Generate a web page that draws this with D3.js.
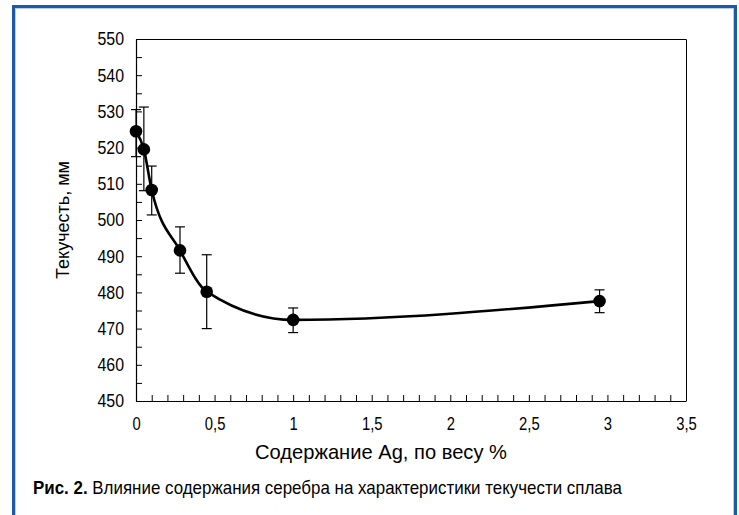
<!DOCTYPE html>
<html>
<head>
<meta charset="utf-8">
<script src="https://cdn.jsdelivr.net/npm/d3@7"></script>
<style>
  body { margin: 0; background: #fff; }
  svg { display: block; }
  text { font-family: "Liberation Sans", Arial, sans-serif; }
</style>
</head>
<body>
<div id="chart"></div>
<script>
// Ag content, % by weight
const agContent = [0, 0.05, 0.1, 0.28, 0.45, 1.0, 2.95];
// fluidity, mm
const fluidity = [524.5, 519.5, 508.3, 491.6, 480.2, 472.4, 477.6];
const errUp = [6.0, 11.7, 6.6, 6.5, 10.2, 3.3, 3.1];
const errDown = [7.0, 11.4, 6.9, 6.3, 10.2, 3.5, 3.2];
const xTickLabels = ["0", "0,5", "1", "1,5", "2", "2,5", "3", "3,5"];
const yTickLabels = ["450", "460", "470", "480", "490", "500", "510", "520", "530", "540", "550"];

const data = agContent.map((x, i) => ({ x, y: fluidity[i], lo: fluidity[i] - errDown[i], hi: fluidity[i] + errUp[i] }));

const W = 739, H = 515;
const margin = { left: 136, top: 39, right: 53, bottom: 114 };
const width = W - margin.left - margin.right;
const height = H - margin.top - margin.bottom;

// squeeze text horizontally (the original uses a condensed face)
function condense(sel, k) {
  sel.each(function () {
    const len = this.getComputedTextLength();
    if (len > 0) d3.select(this).attr("textLength", len * k).attr("lengthAdjust", "spacingAndGlyphs");
  });
}

const svg = d3.select("#chart").append("svg").attr("width", W).attr("height", H);

// blue frame
svg.append("rect").attr("x", 13.5).attr("y", 6.5).attr("width", 722).attr("height", 520)
  .attr("fill", "none").attr("stroke", "#1d5aa6").attr("stroke-width", 3);
svg.append("rect").attr("x", 15.5).attr("y", 8.5).attr("width", 718).attr("height", 520)
  .attr("fill", "none").attr("stroke", "#b7cde9").attr("stroke-width", 1);

const g = svg.append("g").attr("transform", `translate(${margin.left},${margin.top})`);

const x = d3.scaleLinear().domain([0, 3.5]).range([0, width]);
const y = d3.scaleLinear().domain([450, 550]).range([height, 0]);

// plot frame (top/right)
g.append("path").attr("d", `M0,0.5H${width + 0.5}V${height}`).attr("fill", "none")
  .attr("stroke", "#000").attr("stroke-width", 1);

// x axis, ticks inward every 0.1
const xAxis = g.append("g").attr("transform", `translate(0,${height})`)
  .call(d3.axisBottom(x).tickValues(d3.range(0, 3.5001, 0.1)).tickSizeInner(-6).tickSizeOuter(0)
    .tickFormat(d => {
      const k = Math.round(d * 10);
      return k % 5 === 0 ? xTickLabels[k / 5] : "";
    }));
xAxis.selectAll("text").attr("dy", 0).attr("y", 29).attr("font-size", 18.5).attr("fill", "#000")
  .style("font-family", "'Liberation Sans', Arial, sans-serif");
xAxis.select(".domain").attr("stroke-width", 1.2);
condense(xAxis.selectAll("text"), 0.8);

// y axis, ticks inward every 5
const yAxis = g.append("g")
  .call(d3.axisLeft(y).tickValues(d3.range(450, 550.1, 5)).tickSizeInner(-6).tickSizeOuter(0)
    .tickFormat(d => d % 10 === 0 ? yTickLabels[(d - 450) / 10] : ""));
yAxis.selectAll("text").attr("x", -12).attr("font-size", 18.5).attr("fill", "#000")
  .style("font-family", "'Liberation Sans', Arial, sans-serif");
yAxis.select(".domain").attr("stroke-width", 1.2);
condense(yAxis.selectAll("text"), 0.86);

// error bars
const eb = g.append("g").attr("stroke", "#000").attr("stroke-width", 1.2);
data.forEach(d => {
  eb.append("line").attr("x1", x(d.x)).attr("x2", x(d.x)).attr("y1", y(d.lo)).attr("y2", y(d.hi));
  eb.append("line").attr("x1", x(d.x) - 5).attr("x2", x(d.x) + 5).attr("y1", y(d.lo)).attr("y2", y(d.lo));
  eb.append("line").attr("x1", x(d.x) - 5).attr("x2", x(d.x) + 5).attr("y1", y(d.hi)).attr("y2", y(d.hi));
});

// smoothed line
const line = d3.line().x(d => x(d.x)).y(d => y(d.y)).curve(d3.curveMonotoneX);
g.append("path").datum(data).attr("fill", "none").attr("stroke", "#000").attr("stroke-width", 2.6).attr("d", line);

// markers
g.selectAll("circle.pt").data(data).enter().append("circle").attr("class", "pt")
  .attr("cx", d => x(d.x)).attr("cy", d => y(d.y)).attr("r", 6.3).attr("fill", "#000");

// axis titles
svg.append("text").attr("x", 381).attr("y", 459).attr("text-anchor", "middle")
  .attr("font-size", 21).attr("textLength", 252).attr("lengthAdjust", "spacingAndGlyphs")
  .text("Содержание Ag, по весу %");

svg.append("text").attr("transform", "translate(69,220) rotate(-90)").attr("text-anchor", "middle")
  .attr("font-size", 18).text("Текучесть, мм");

// caption
const cap = svg.append("text").attr("x", 33).attr("y", 494).attr("font-size", 18.5)
  .attr("textLength", 589).attr("lengthAdjust", "spacingAndGlyphs");
cap.append("tspan").attr("font-weight", "bold").text("Рис. 2.");
cap.append("tspan").text(" Влияние содержания серебра на характеристики текучести сплава");
</script>
</body>
</html>
